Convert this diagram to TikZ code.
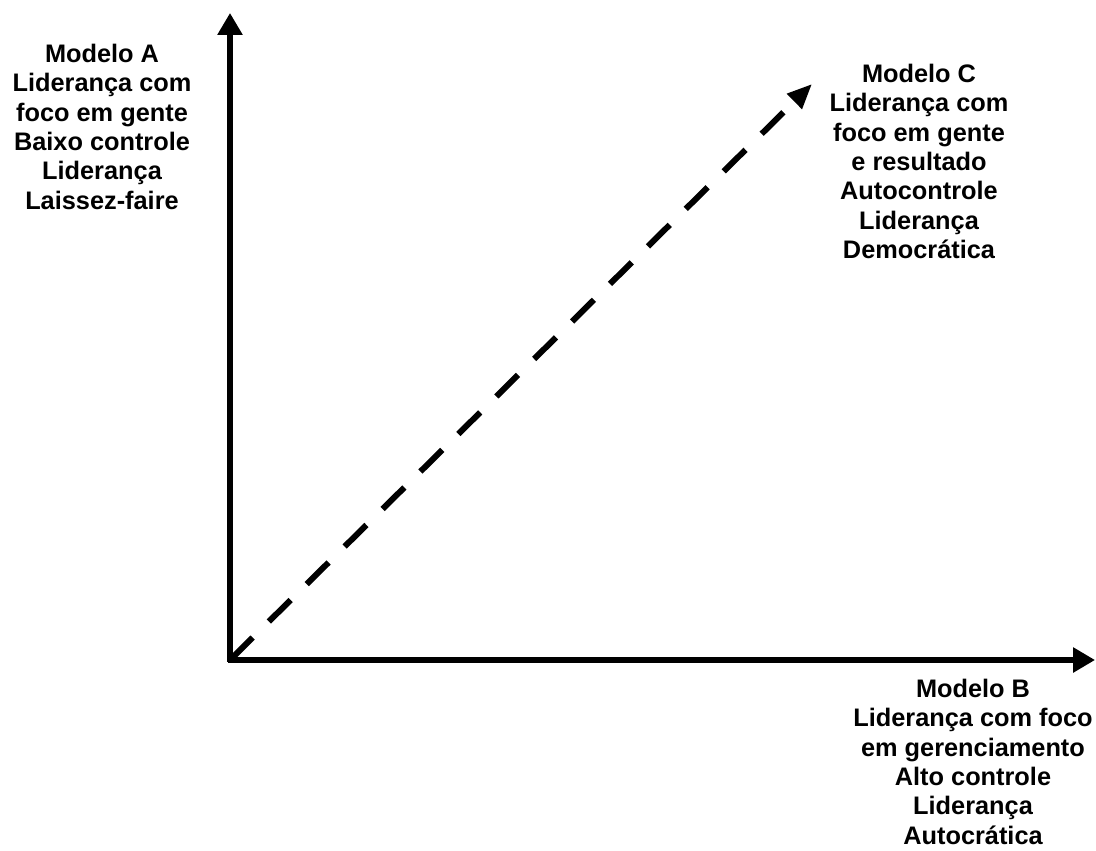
\documentclass[tikz,border=0pt]{standalone}
\usepackage{fontspec}
\setmainfont{Liberation Sans}
\usetikzlibrary{arrows.meta}

\begin{document}
\begin{tikzpicture}[x=0.75pt,y=-0.75pt,
    axis/.style={line width=4.9pt,line cap=rect,-{Triangle[width=18pt,length=16.5pt]}},
    modeltext/.style={align=center,anchor=north,inner sep=0,font=\bfseries\fontsize{19pt}{22pt}\selectfont}]
  \useasboundingbox (0,0) rectangle (1096,850);
  \node[inner sep=0] (O) at (230,660) {};
  \node[inner sep=0] (Y) at (230,12) {};
  \node[inner sep=0] (X) at (1096,660) {};
  \node[inner sep=0] (C) at (813,83) {};

  \node[modeltext] (ModA) at (102,44) {Modelo A\\Liderança com\\foco em gente\\Baixo controle\\Liderança\\Laissez-faire};
  \node[modeltext] (ModB) at (973,679) {Modelo B\\Liderança com foco\\em gerenciamento\\Alto controle\\Liderança\\Autocrática};
  \node[modeltext] (ModC) at (919,64) {Modelo C\\Liderança com\\foco em gente\\e resultado\\Autocontrole\\Liderança\\Democrática};

  \draw[axis] (O) -- (Y);
  \draw[axis] (O) -- (X);
  \draw[line width=4.5pt,dash pattern=on 23pt off 17pt,-{Triangle[width=15pt,length=18.75pt]}] (O) -- (C);
\end{tikzpicture}
\end{document}
